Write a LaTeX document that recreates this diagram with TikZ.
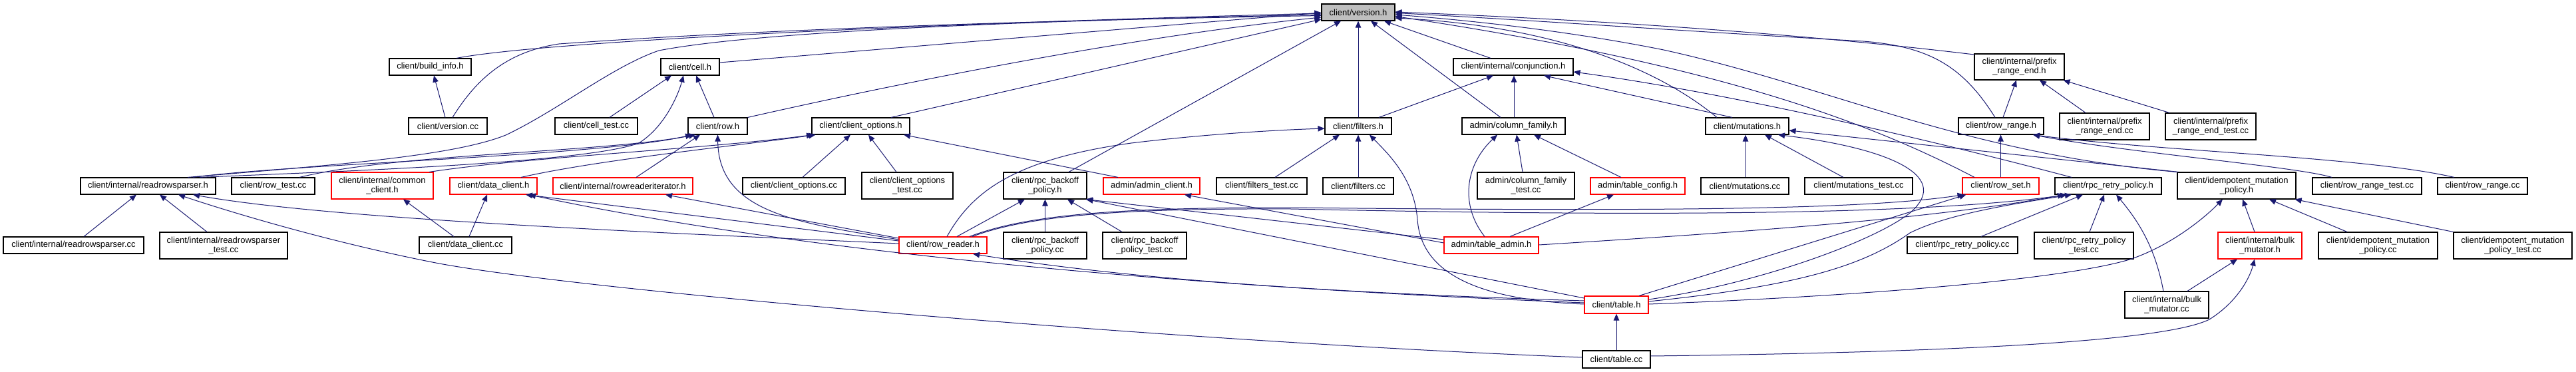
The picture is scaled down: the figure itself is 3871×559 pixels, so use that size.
\documentclass[tikz,border=0pt]{standalone}
\usepackage{fontspec}
\setmainfont{Liberation Sans}
\usetikzlibrary{arrows.meta}
\definecolor{edgeblue}{HTML}{191970}
\definecolor{nodered}{HTML}{FF0000}
\definecolor{rootgray}{HTML}{BFBFBF}
\tikzset{
  nbox/.style={draw=black, line width=1.1pt, fill=white, inner sep=0pt, align=center, font=\fontsize{13}{14}\selectfont},
  rbox/.style={nbox, draw=nodered},
  gbox/.style={nbox, fill=rootgray},
  dep/.style={draw=edgeblue, line width=1pt, -{Triangle[length=10pt,width=8.5pt]}}
}
\newcommand{\bx}[7]{\node[#1,minimum width={(#4)-(#3)},minimum height={(#6)-(#5)}] (#2) at ({((#3)+(#4))/2},{((#5)+(#6))/2}) {#7};}
\begin{document}
\begin{tikzpicture}[x=1pt,y=-1pt]
\useasboundingbox (0,0) rectangle (3871,559);
% nodes
\bx{gbox}{version}{1986}{2096}{6}{31}{client/version.h}
\bx{nbox}{buildinfo}{585}{708}{88}{113}{client/build\_info.h}
\bx{nbox}{cell}{993}{1081}{88}{113}{client/cell.h}
\bx{nbox}{conj}{2184}{2364}{88}{113}{client/internal/conjunction.h}
\bx{nbox}{prefixh}{2967}{3102}{81}{120}{client/internal/prefix\\\_range\_end.h}
\bx{nbox}{versioncc}{614}{732}{177}{202}{client/version.cc}
\bx{nbox}{celltest}{834}{958}{177}{202}{client/cell\_test.cc}
\bx{nbox}{row}{1034}{1123}{177}{202}{client/row.h}
\bx{nbox}{copts}{1220}{1367}{177}{202}{client/client\_options.h}
\bx{nbox}{filters}{1991}{2091}{177}{202}{client/filters.h}
\bx{nbox}{colfam}{2197}{2352}{177}{202}{admin/column\_family.h}
\bx{nbox}{mut}{2563}{2688}{177}{202}{client/mutations.h}
\bx{nbox}{rowrange}{2943}{3071}{177}{202}{client/row\_range.h}
\bx{nbox}{prefixcc}{3095}{3230}{170}{210}{client/internal/prefix\\\_range\_end.cc}
\bx{nbox}{prefixtest}{3254}{3390}{170}{210}{client/internal/prefix\\\_range\_end\_test.cc}
\bx{nbox}{rrph}{121}{324}{267}{292}{client/internal/readrowsparser.h}
\bx{nbox}{rowtest}{348}{473}{267}{292}{client/row\_test.cc}
\bx{rbox}{common}{498}{651}{259}{299}{client/internal/common\\\_client.h}
\bx{rbox}{dch}{676}{807}{267}{292}{client/data\_client.h}
\bx{rbox}{rri}{831}{1041}{267}{292}{client/internal/rowreaderiterator.h}
\bx{nbox}{coptscc}{1116}{1270}{267}{292}{client/client\_options.cc}
\bx{nbox}{coptstest}{1295}{1432}{259}{299}{client/client\_options\\\_test.cc}
\bx{nbox}{backoffh}{1508}{1633}{259}{299}{client/rpc\_backoff\\\_policy.h}
\bx{rbox}{adminc}{1658}{1803}{267}{292}{admin/admin\_client.h}
\bx{nbox}{filterstest}{1828}{1964}{267}{292}{client/filters\_test.cc}
\bx{nbox}{filterscc}{1988}{2094}{267}{292}{client/filters.cc}
\bx{nbox}{colfamtest}{2220}{2366}{259}{299}{admin/column\_family\\\_test.cc}
\bx{rbox}{tconfig}{2390}{2532}{267}{292}{admin/table\_config.h}
\bx{nbox}{mutcc}{2556}{2688}{267}{292}{client/mutations.cc}
\bx{nbox}{muttest}{2712}{2874}{267}{292}{client/mutations\_test.cc}
\bx{rbox}{rowset}{2949}{3064}{267}{292}{client/row\_set.h}
\bx{nbox}{retryh}{3088}{3248}{267}{292}{client/rpc\_retry\_policy.h}
\bx{nbox}{idemh}{3272}{3450}{259}{299}{client/idempotent\_mutation\\\_policy.h}
\bx{nbox}{rrtest}{3475}{3639}{267}{292}{client/row\_range\_test.cc}
\bx{nbox}{rrcc}{3663}{3798}{267}{292}{client/row\_range.cc}
\bx{nbox}{rrpcc}{5}{216}{356}{381}{client/internal/readrowsparser.cc}
\bx{nbox}{rrptest}{240}{432}{349}{389}{client/internal/readrowsparser\\\_test.cc}
\bx{nbox}{dccc}{630}{769}{356}{381}{client/data\_client.cc}
\bx{rbox}{rreader}{1351}{1483}{356}{381}{client/row\_reader.h}
\bx{nbox}{backoffcc}{1508}{1633}{349}{389}{client/rpc\_backoff\\\_policy.cc}
\bx{nbox}{backofftest}{1657}{1783}{349}{389}{client/rpc\_backoff\\\_policy\_test.cc}
\bx{rbox}{tadmin}{2170}{2312}{356}{381}{admin/table\_admin.h}
\bx{nbox}{retrycc}{2866}{3032}{356}{381}{client/rpc\_retry\_policy.cc}
\bx{nbox}{retrytest}{3057}{3206}{349}{389}{client/rpc\_retry\_policy\\\_test.cc}
\bx{rbox}{bulkh}{3333}{3459}{349}{389}{client/internal/bulk\\\_mutator.h}
\bx{nbox}{idemcc}{3484}{3663}{349}{389}{client/idempotent\_mutation\\\_policy.cc}
\bx{nbox}{idemtest}{3687}{3865}{349}{389}{client/idempotent\_mutation\\\_policy\_test.cc}
\bx{rbox}{tableh}{2381}{2477}{445}{471}{client/table.h}
\bx{nbox}{bulkcc}{3193}{3319}{438}{478}{client/internal/bulk\\\_mutator.cc}
\bx{nbox}{tablecc}{2378}{2480}{527}{553}{client/table.cc}
% edges
\draw[dep] ([xshift=39.5pt]buildinfo.north) .. controls (800,65) and (1300,38) .. ([yshift=-1.5pt]version.west);
\draw[dep] ([xshift=-4pt]versioncc.north) -- ([xshift=5.5pt]buildinfo.south);
\draw[dep] ([xshift=7pt]versioncc.north) .. controls (715,120) and (760,78) .. (840,66) .. controls (1200,40) and (1700,28) .. ([yshift=-5pt]version.west);
\draw[dep] ([yshift=6.5pt]cell.east) -- ([yshift=-0.5pt]version.west);
\draw[dep] ([xshift=20pt]celltest.north) -- ([xshift=-28pt]cell.south);
\draw[dep] ([xshift=-5.5pt]row.north) -- ([xshift=9pt]cell.south);
\draw[dep] (row.north east) .. controls (1350,125) and (1700,55) .. ([yshift=-7.5pt]version.west);
\draw[dep] ([xshift=45.5pt]copts.north) -- ([yshift=-10.5pt]version.west);
\draw[dep] ([xshift=59.5pt]rrph.north) .. controls (500,248) and (680,235) .. (760,203) .. controls (840,165) and (920,100) .. (990,76) .. controls (1150,45) and (1600,30) .. ([yshift=-3.5pt]version.west);
\draw[dep] ([xshift=77.5pt]rrph.north) .. controls (500,258) and (880,245) .. (960,215) .. controls (1000,190) and (1020,140) .. ([xshift=-10pt]cell.south);
\draw[dep] ([xshift=67.5pt]rrph.north) .. controls (450,245) and (900,235) .. ([xshift=-38.5pt]row.south);
\draw[dep] ([xshift=39.5pt]rowtest.north) .. controls (600,230) and (900,230) .. ([xshift=-33.5pt]row.south);
\draw[dep] ([xshift=70.5pt]common.north) .. controls (800,235) and (1050,225) .. ([xshift=-71.5pt]copts.south);
\draw[dep] ([xshift=41.5pt]dch.north) .. controls (900,240) and (1100,220) .. ([xshift=-68pt]copts.south);
\draw[dep] ([xshift=5.5pt]dccc.north) -- ([xshift=-9.5pt]dch.south);
\draw[dep] ([xshift=-17.5pt]dccc.north) -- ([xshift=31.5pt]common.south);
\draw[dep] ([xshift=20pt]rri.north) -- ([xshift=-26.5pt]row.south);
\draw[dep] ([yshift=8.5pt]rreader.west) .. controls (1200,335) and (1080,320) .. (row.south);
\draw[dep] ([yshift=10.5pt]rreader.west) -- ([xshift=64pt]rri.south);
\draw[dep] ([yshift=6.5pt]rreader.west) -- ([xshift=48.5pt]dch.south);
\draw[dep] ([yshift=2.5pt]rreader.west) .. controls (1000,350) and (500,330) .. ([xshift=67.5pt]rrph.south);
\draw[dep] ([yshift=3pt]tablecc.west) .. controls (1800,515) and (900,440) .. (660,396) .. controls (500,365) and (350,320) .. ([xshift=45.5pt]rrph.south);
\draw[dep] ([xshift=15.5pt]rrpcc.north) -- ([xshift=-17.5pt]rrph.south);
\draw[dep] ([xshift=-25pt]rrptest.north) -- ([xshift=17.5pt]rrph.south);
\draw[dep] ([xshift=13pt]coptscc.north) -- ([xshift=-15.5pt]copts.south);
\draw[dep] ([xshift=-16.5pt]coptstest.north) -- ([xshift=11.5pt]copts.south);
\draw[dep] ([xshift=-50.5pt]adminc.north) -- ([xshift=64.5pt]copts.south);
\draw[dep] ([xshift=35.5pt]backoffh.north) -- ([xshift=-26pt]version.south);
\draw[dep] ([xshift=21pt]rreader.north) -- ([xshift=-30.5pt]backoffh.south);
\draw[dep] (backoffcc.north) -- (backoffh.south);
\draw[dep] ([xshift=-34pt]backofftest.north) -- ([xshift=33.5pt]backoffh.south);
\draw[dep] ([xshift=6pt]rreader.north) .. controls (1460,290) and (1520,240) .. (1700,215) .. controls (1800,203) and (1900,196) .. ([yshift=-3.5pt]filters.west);
\draw[dep] ([xshift=40pt]rreader.north) .. controls (1550,320) and (1700,312) .. (1940,312) .. controls (2500,318) and (2800,315) .. ([xshift=3pt]rowset.south west);
\draw[dep] ([xshift=44pt]rreader.north) .. controls (1550,322) and (1700,313) .. (1940,314) .. controls (2500,326) and (2900,322) .. ([xshift=-62pt]retryh.south);
\draw[dep] ([yshift=8.5pt]tadmin.west) -- ([xshift=-2pt]backoffh.south east);
\draw[dep] ([yshift=3.5pt]tadmin.west) -- ([xshift=49.5pt]adminc.south);
\draw[dep] ([yshift=10pt]tableh.west) -- ([xshift=-1pt]backoffh.south east);
\draw[dep] ([yshift=3pt]tableh.west) .. controls (2000,440) and (1300,400) .. ([xshift=53.5pt]dch.south);
\draw[dep] ([yshift=6pt]tableh.west) .. controls (2000,440) and (1700,420) .. ([xshift=45pt]rreader.south);
\draw[dep] ([yshift=1pt]tableh.west) .. controls (2200,450) and (2135,400) .. (2130,330) .. controls (2125,270) and (2090,235) .. ([xshift=17pt]filters.south);
\draw[dep] ([xshift=34pt]tableh.north) -- ([xshift=6pt]rowset.south west);
\draw[dep] ([yshift=8pt]tableh.east) .. controls (2650,425) and (2820,360) .. (2870,320) .. controls (2940,260) and (2820,220) .. ([xshift=46.5pt]mut.south);
\draw[dep] ([yshift=5pt]tableh.east) .. controls (2700,430) and (2800,400) .. (2870,350) .. controls (2920,325) and (3000,310) .. ([xshift=-55pt]retryh.south);
\draw[dep] ([yshift=1pt]tableh.east) .. controls (2800,445) and (3100,420) .. (3200,390) .. controls (3260,370) and (3310,330) .. ([xshift=-21pt]idemh.south);
\draw[dep] (tablecc.north) -- (tableh.south);
\draw[dep] ([yshift=5pt]tablecc.east) .. controls (2900,530) and (3250,515) .. (3320,480) .. controls (3360,455) and (3380,420) .. ([xshift=-8pt]bulkh.south);
\draw[dep] ([xshift=31pt]bulkcc.north) -- ([xshift=-34pt]bulkh.south);
\draw[dep] ([xshift=-5pt]bulkcc.north) .. controls (3240,380) and (3220,340) .. ([xshift=12pt]retryh.south);
\draw[dep] ([xshift=28pt]retrycc.north) -- ([xshift=-38pt]retryh.south);
\draw[dep] ([xshift=8.5pt]retrytest.north) -- ([xshift=-6pt]retryh.south);
\draw[dep] ([yshift=0.5pt]tadmin.east) .. controls (2600,350) and (2900,330) .. ([xshift=-66pt]retryh.south);
\draw[dep] ([xshift=-10pt]tadmin.north) .. controls (2195,310) and (2200,250) .. ([xshift=-24.5pt]colfam.south);
\draw[dep] ([xshift=28pt]tadmin.north) -- ([xshift=-36pt]tconfig.south);
\draw[dep] ([xshift=-5pt]colfamtest.north) -- ([xshift=4.5pt]colfam.south);
\draw[dep] ([xshift=-25pt]tconfig.north) -- ([xshift=30.5pt]colfam.south);
\draw[dep] ([xshift=0.5pt]colfam.north) -- ([xshift=1pt]conj.south);
\draw[dep] ([xshift=-19.5pt]colfam.north) -- ([xshift=19pt]version.south);
\draw[dep] ([xshift=31pt]filters.north) -- ([xshift=-30pt]conj.south);
\draw[dep] (filters.north) -- (version.south);
\draw[dep] ([xshift=20pt]filterstest.north) -- ([xshift=-28pt]filters.south);
\draw[dep] (filterscc.north) -- (filters.south);
\draw[dep] ([xshift=-34pt]conj.north) -- ([xshift=39pt]version.south);
\draw[dep] ([xshift=-22.5pt]mut.north) -- ([xshift=46pt]conj.south);
\draw[dep] ([xshift=-45.5pt]mut.north) .. controls (2500,110) and (2350,40) .. ([yshift=-8.5pt]version.east);
\draw[dep] ([xshift=-55pt]retryh.north) .. controls (2900,210) and (2600,140) .. ([yshift=-7.5pt]conj.east);
\draw[dep] ([xshift=-39.5pt]rowset.north) .. controls (2820,190) and (2600,100) .. ([yshift=-6pt]version.east);
\draw[dep] (idemh.north west) .. controls (2950,230) and (2750,130) .. (2500,75) .. controls (2350,45) and (2200,30) .. ([yshift=-3.5pt]version.east);
\draw[dep] ([xshift=-9pt]rowrange.north) .. controls (2950,100) and (2900,70) .. (2800,62) .. controls (2500,45) and (2300,30) .. ([yshift=-1pt]version.east);
\draw[dep] ([yshift=18.5pt]prefixh.west) .. controls (2700,50) and (2400,30) .. ([yshift=0.5pt]version.east);
\draw[dep] ([xshift=3pt]rowrange.north) -- ([xshift=-4.5pt]prefixh.south);
\draw[dep] ([xshift=-28.5pt]prefixcc.north) -- ([xshift=30.5pt]prefixh.south);
\draw[dep] ([xshift=-62pt]prefixtest.north) -- ([xshift=-2pt]prefixh.south east);
\draw[dep] (rowset.north) -- (rowset.north |- rowrange.south);
\draw[dep] ([xshift=-53pt]rrtest.north) .. controls (3450,250) and (3200,230) .. ([xshift=48pt]rowrange.south);
\draw[dep] ([xshift=-42.5pt]rrcc.north) .. controls (3550,235) and (3250,228) .. ([xshift=48pt]rowrange.south);
\draw[dep] ([xshift=2pt]idemh.north west) -- ([yshift=-6.5pt]mut.east);
\draw[dep] ([xshift=-8pt]bulkh.north) -- ([xshift=9pt]idemh.south);
\draw[dep] ([xshift=-46.5pt]idemcc.north) -- ([xshift=49pt]idemh.south);
\draw[dep] (idemtest.north west) -- ([xshift=-2pt]idemh.south east);
\draw[dep] ([xshift=1pt]mutcc.north) -- ([xshift=-2.5pt]mut.south);
\draw[dep] ([xshift=-23pt]muttest.north) -- ([xshift=26.5pt]mut.south);
\end{tikzpicture}
\end{document}
